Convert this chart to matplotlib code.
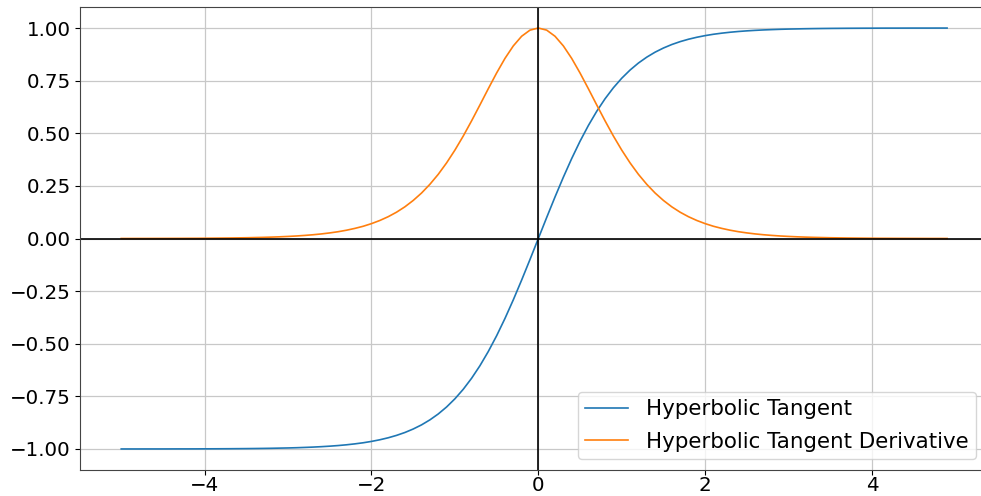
import matplotlib
matplotlib.use("Agg")
import matplotlib.pyplot as plt

# sample points
x = [round(-5.0 + 0.1 * i, 1) for i in range(100)]

tanh_pos = [0.0, 0.0997, 0.1974, 0.2913, 0.3799, 0.4621, 0.5370, 0.6044, 0.6640, 0.7163,
            0.7616, 0.8005, 0.8337, 0.8617, 0.8854, 0.9051, 0.9217, 0.9354, 0.9468, 0.9562,
            0.9640, 0.9705, 0.9757, 0.9801, 0.9837, 0.9866, 0.9890, 0.9910, 0.9926, 0.9940,
            0.9951, 0.9959, 0.9967, 0.9973, 0.9978, 0.9982, 0.9985, 0.9988, 0.9990, 0.9992,
            0.9993, 0.9995, 0.9996, 0.9996, 0.9997, 0.9998, 0.9998, 0.9998, 0.9999, 0.9999,
            0.9999]
deriv_pos = [1.0, 0.9901, 0.9610, 0.9151, 0.8557, 0.7864, 0.7116, 0.6347, 0.5591, 0.4869,
             0.4200, 0.3592, 0.3049, 0.2575, 0.2161, 0.1808, 0.1505, 0.1250, 0.1036, 0.0857,
             0.0707, 0.0581, 0.0480, 0.0394, 0.0323, 0.0266, 0.0218, 0.0179, 0.0147, 0.0120,
             0.0099, 0.0081, 0.0066, 0.0054, 0.0045, 0.0036, 0.0030, 0.0024, 0.0020, 0.0016,
             0.0013, 0.0010, 0.0009, 0.0007, 0.0006, 0.0005, 0.0004, 0.0003, 0.0003, 0.0002,
             0.0002]

# curves are odd / even, left half mirrors the right half
tanh_vals = [-v for v in tanh_pos[50:0:-1]] + tanh_pos[:50]
deriv_vals = deriv_pos[50:0:-1] + deriv_pos[:50]

labels = ["Hyperbolic Tangent", "Hyperbolic Tangent Derivative"]

fig = plt.figure(figsize=(9.81, 4.96), dpi=100)
ax = fig.add_axes([0.0815, 0.0524, 0.926, 0.9335])

ax.plot(x, tanh_vals, color="#1f77b4", lw=1.2, label=labels[0])
ax.plot(x, deriv_vals, color="#ff7f0e", lw=1.2, label=labels[1])
ax.axhline(0, color="black", lw=1.2)
ax.axvline(0, color="black", lw=1.2)

ax.grid(True, color="#c8c8c8", lw=0.9)
ax.set_yticks([-1.0, -0.75, -0.5, -0.25, 0.0, 0.25, 0.5, 0.75, 1.0])
ax.tick_params(labelsize=14.3, pad=3)
ax.tick_params(axis="x", pad=1)
ax.spines["right"].set_visible(False)
for s in ax.spines.values():
    s.set_color("#444444")

ax.legend(loc="lower right", fontsize=15.4, bbox_to_anchor=(0.9985, 0.0),
          handlelength=2.0, handletextpad=0.85, borderpad=0.35, labelspacing=0.58)

fig.savefig("out.png", dpi=100)
